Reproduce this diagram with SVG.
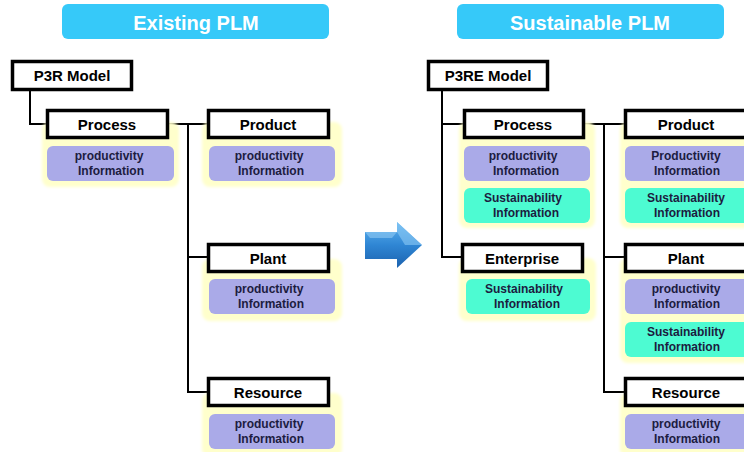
<svg xmlns="http://www.w3.org/2000/svg" width="744" height="452" viewBox="0 0 744 452">
<defs>
<style>
.title{fill:#36c9f9}
.ttxt{font-family:"Liberation Sans",Arial,sans-serif;font-weight:bold;font-size:20px;fill:#ffffff;text-anchor:middle}
.node{fill:#ffffff;stroke:#000000;stroke-width:3.5}
.ntxt{font-family:"Liberation Sans",Arial,sans-serif;font-weight:bold;font-size:15px;fill:#000000;text-anchor:middle}
.glow{fill:#ffffcc;filter:url(#soft)}
.prod{fill:#aaaae8}
.sust{fill:#4dfbd2}
.itxt{font-family:"Liberation Sans",Arial,sans-serif;font-weight:bold;font-size:12px;fill:#1c1c40;text-anchor:middle}
.conn{fill:none;stroke:#000000;stroke-width:2}
</style>
<filter id="soft" x="-10%" y="-10%" width="120%" height="120%"><feGaussianBlur stdDeviation="1.5"/></filter>
<linearGradient id="ag" x1="0" y1="0" x2="0" y2="1">
<stop offset="0" stop-color="#5fb3ef"/>
<stop offset="0.5" stop-color="#2f86d4"/>
<stop offset="1" stop-color="#1c62ae"/>
</linearGradient>
</defs>

<g id="title-existing"><rect class="title" x="62" y="4" width="267" height="35" rx="6"/><text class="ttxt" x="196" y="30">Existing PLM</text></g>
<g id="title-sustainable"><rect class="title" x="457" y="4" width="267" height="35" rx="6"/><text class="ttxt" x="590" y="30">Sustainable PLM</text></g>

<g id="connectors">
<polyline class="conn" points="30,91 30,124 46,124"/>
<line class="conn" x1="169" y1="124" x2="207" y2="124"/>
<polyline class="conn" points="188,124 188,392 207,392"/>
<line class="conn" x1="188" y1="257" x2="207" y2="257"/>
<polyline class="conn" points="442,91 442,257 461,257"/>
<line class="conn" x1="442" y1="124" x2="463" y2="124"/>
<line class="conn" x1="585" y1="124" x2="624" y2="124"/>
<polyline class="conn" points="604,124 604,392 624,392"/>
<line class="conn" x1="604" y1="257" x2="624" y2="257"/>
</g>

<g id="arrow">
<polygon points="365,232 397,232 397,222 422,245 397,268 397,259 365,259" fill="url(#ag)"/>
<polygon points="397,222 422,245 405,245 397,232" fill="#8cc9f5" opacity="0.6"/>
<polygon points="365,232 397,232 392,238 370,238" fill="#9fd3f7" opacity="0.5"/>
</g>

<g id="p3r-model"><rect class="node" x="12.5" y="61.5" width="119" height="28"/><text class="ntxt" x="72" y="81">P3R Model</text></g>

<g id="l-process">
<rect class="glow" x="42" y="122" width="137" height="65" rx="8"/>
<rect class="node" x="47.5" y="110.5" width="120" height="27"/><text class="ntxt" x="107" y="130">Process</text>
<rect class="prod" x="47" y="146" width="127" height="35" rx="6"/>
<text class="itxt" x="109" y="160">productivity</text><text class="itxt" x="111" y="174.5">Information</text>
</g>

<g id="l-product">
<rect class="glow" x="202" y="122" width="140" height="65" rx="8"/>
<rect class="node" x="208.5" y="110.5" width="120" height="27"/><text class="ntxt" x="268" y="130">Product</text>
<rect class="prod" x="209" y="146" width="126" height="35" rx="6"/>
<text class="itxt" x="269" y="160">productivity</text><text class="itxt" x="271" y="174.5">Information</text>
</g>

<g id="l-plant">
<rect class="glow" x="202" y="259" width="140" height="62" rx="8"/>
<rect class="node" x="208.5" y="244.5" width="120" height="27"/><text class="ntxt" x="268" y="264">Plant</text>
<rect class="prod" x="209" y="279" width="126" height="35" rx="6"/>
<text class="itxt" x="269" y="293">productivity</text><text class="itxt" x="271" y="307.5">Information</text>
</g>

<g id="l-resource">
<rect class="glow" x="202" y="393" width="140" height="64" rx="8"/>
<rect class="node" x="208.5" y="378.5" width="120" height="27"/><text class="ntxt" x="268" y="398">Resource</text>
<rect class="prod" x="209" y="414" width="126" height="35" rx="6"/>
<text class="itxt" x="269" y="428">productivity</text><text class="itxt" x="271" y="442.5">Information</text>
</g>

<g id="p3re-model"><rect class="node" x="428.5" y="61.5" width="119" height="28"/><text class="ntxt" x="488" y="81">P3RE Model</text></g>

<g id="r-process">
<rect class="glow" x="459" y="122" width="136" height="106" rx="8"/>
<rect class="node" x="464.5" y="110.5" width="119" height="27"/><text class="ntxt" x="523" y="130">Process</text>
<rect class="prod" x="464" y="146" width="126" height="35" rx="6"/>
<text class="itxt" x="523" y="160">productivity</text><text class="itxt" x="526" y="174.5">Information</text>
<rect class="sust" x="464" y="188" width="126" height="35" rx="6"/>
<text class="itxt" x="523" y="202">Sustainability</text><text class="itxt" x="526" y="216.5">Information</text>
</g>

<g id="r-enterprise">
<rect class="glow" x="459" y="258" width="137" height="63" rx="8"/>
<rect class="node" x="462.5" y="244.5" width="120" height="27"/><text class="ntxt" x="522" y="264">Enterprise</text>
<rect class="sust" x="466" y="279" width="124" height="35" rx="6"/>
<text class="itxt" x="524" y="293">Sustainability</text><text class="itxt" x="527" y="307.5">Information</text>
</g>

<g id="r-product">
<rect class="glow" x="620" y="122" width="140" height="106" rx="8"/>
<rect class="node" x="625.5" y="110.5" width="121" height="27"/><text class="ntxt" x="686" y="130">Product</text>
<rect class="prod" x="625" y="146" width="124" height="35" rx="6"/>
<text class="itxt" x="686" y="160">Productivity</text><text class="itxt" x="687" y="174.5">Information</text>
<rect class="sust" x="625" y="188" width="124" height="35" rx="6"/>
<text class="itxt" x="686" y="202">Sustainability</text><text class="itxt" x="687" y="216.5">Information</text>
</g>

<g id="r-plant">
<rect class="glow" x="620" y="258" width="140" height="105" rx="8"/>
<rect class="node" x="625.5" y="244.5" width="121" height="27"/><text class="ntxt" x="686" y="264">Plant</text>
<rect class="prod" x="625" y="279" width="124" height="35" rx="6"/>
<text class="itxt" x="686" y="293">productivity</text><text class="itxt" x="687" y="307.5">Information</text>
<rect class="sust" x="625" y="322" width="124" height="35" rx="6"/>
<text class="itxt" x="686" y="336">Sustainability</text><text class="itxt" x="687" y="350.5">Information</text>
</g>

<g id="r-resource">
<rect class="glow" x="620" y="393" width="140" height="64" rx="8"/>
<rect class="node" x="625.5" y="378.5" width="121" height="27"/><text class="ntxt" x="686" y="398">Resource</text>
<rect class="prod" x="625" y="414" width="124" height="35" rx="6"/>
<text class="itxt" x="686" y="428">productivity</text><text class="itxt" x="687" y="442.5">Information</text>
</g>
</svg>
